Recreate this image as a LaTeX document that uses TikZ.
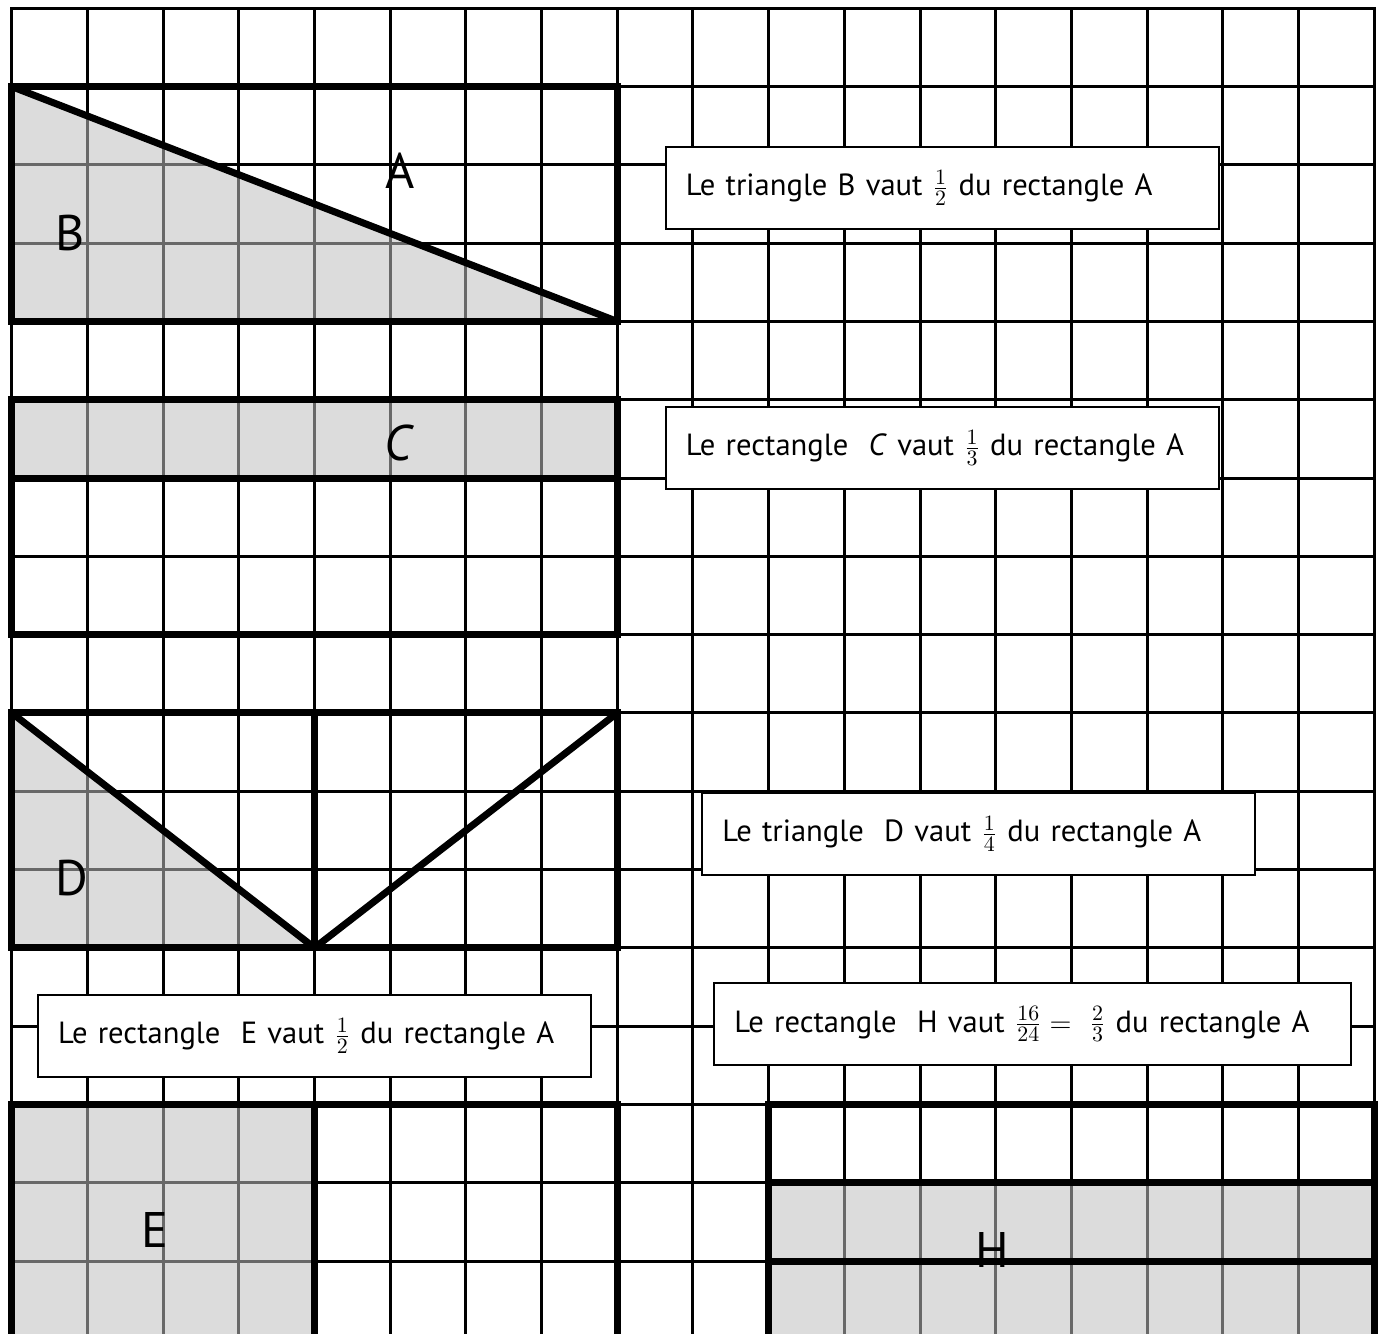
\documentclass[tikz,border=0pt]{standalone}
\usepackage{amsmath}
\usepackage{fontspec}
\setmainfont{PT Sans}
\usetikzlibrary{positioning}
\definecolor{shgrey}{HTML}{BFBFBF}
\tikzset{
  cell/.style={line width=1.5pt,black,line cap=rect},
  frame/.style={line width=3.5pt,black,line join=miter},
  shade/.style={fill=shgrey,fill opacity=0.55,draw=none},
  note/.style={draw=black,fill=white,line width=1pt,anchor=north west,
               minimum height=41pt,inner xsep=10pt,text width=256.5pt,
               align=left,font=\fontsize{15.3}{18}\selectfont},
  tag/.style={font=\fontsize{25}{30}\selectfont,inner sep=0pt},
}

\begin{document}
\begin{tikzpicture}[x=37.85pt,y=-39.15pt]
    \useasboundingbox (-0.155,-0.106) rectangle (18.05,16.93);
    \clip (-0.155,-0.106) rectangle (18.05,16.93);
    % squared paper
    \foreach \c in {0,...,18} \draw[cell] (\c,0) -- (\c,17.5);
    \foreach \r in {0,...,16} \draw[cell] (0,\r) -- (18,\r);
    % shaded parts
    \fill[shade] (0,1) -- (0,4) -- (8,4) -- cycle;
    \fill[shade] (0,5) rectangle (8,6);
    \fill[shade] (0,9) -- (0,12) -- (4,12) -- cycle;
    \fill[shade] (0,14) rectangle (4,17.5);
    \fill[shade] (10,15) rectangle (18,17.5);
    % rectangle A and triangle B
    \draw[frame] (0,1) rectangle (8,4);
    \draw[frame] (0,1) -- (8,4);
    % rectangle C
    \draw[frame] (0,5) rectangle (8,8);
    \draw[frame] (0,6) -- (8,6);
    % triangle D
    \draw[frame] (0,9) rectangle (8,12);
    \draw[frame] (4,9) -- (4,12);
    \draw[frame] (0,9) -- (4,12) -- (8,9);
    % rectangle E
    \draw[frame] (0,14) rectangle (8,17.5);
    \draw[frame] (4,14) -- (4,17.5);
    % rectangle H
    \draw[frame] (10,14) rectangle (18,17.5);
    \draw[frame] (10,15) -- (18,15);
    \draw[frame] (10,16) -- (18,16);
    % letters
    \node[tag] (lblA) at (5.13,2.07)  {A};
    \node[tag] (lblB) at (0.77,2.87)  {B};
    \node[tag] (lblC) at (5.1,5.55)   {\itshape C};
    \node[tag] (lblD) at (0.80,11.11) {D};
    \node[tag] (lblE) at (1.89,15.6)  {E};
    \node[tag] (lblH) at (12.95,15.86) {H};
    % notes
    \node[note] (noteB) at (8.63,1.755) {Le triangle B vaut $\tfrac{1}{2}$ du rectangle A};
    \node[note] (noteC) at (8.63,5.08)  {Le rectangle~ \textit{C} vaut $\tfrac{1}{3}$ du rectangle A};
    \node[note] (noteD) at (9.11,10.01) {Le triangle~ D vaut $\tfrac{1}{4}$ du rectangle A};
    \node[note] (noteE) at (0.335,12.59) {Le rectangle~ E vaut $\tfrac{1}{2}$ du rectangle A};
    \node[note,text width=298.5pt] (noteH) at (9.27,12.44)
         {Le rectangle~ H vaut $\tfrac{16}{24} = ~\tfrac{2}{3}$ du rectangle A};
\end{tikzpicture}
\end{document}
